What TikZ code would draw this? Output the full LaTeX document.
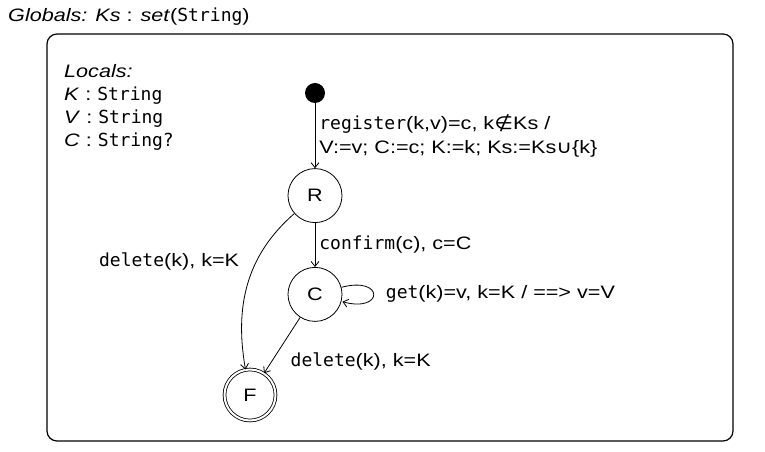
\documentclass[tikz,border=0pt]{standalone}
\usepackage{fontspec}
\setmainfont[FakeStretch=1.2]{Liberation Sans}
\setmonofont{DejaVu Sans Mono}
\newfontfamily\symfont[FakeStretch=1.2]{DejaVu Sans}
\usetikzlibrary{arrows.meta,positioning}

\begin{document}
\begin{tikzpicture}[
  x=1pt,y=1pt,
  font=\fontsize{18}{23}\selectfont,
  >={Straight Barb[length=5pt,width=8pt]},
  frame/.style={draw,rounded corners=10pt,line width=1.2pt,inner sep=0pt},
  state/.style={draw,circle,line width=0.8pt,minimum size=54pt,inner sep=0pt},
  final/.style={state,double,double distance=2pt,minimum size=51pt},
  initial/.style={circle,fill=black,minimum size=20pt,inner sep=0pt},
  trans/.style={draw,->,line width=0.8pt},
  lbl/.style={align=left,inner sep=4pt,font=\fontsize{18}{24}\selectfont},
  node distance=65pt,
]
\useasboundingbox (0,0) rectangle (765,452);
% ---- header and the machine frame ----
\node[anchor=base west,inner sep=0pt] (globals) at (8,430) {\textit{Globals: Ks} : \textit{set}(\texttt{String})};
\node[frame,minimum width=686pt,minimum height=407pt] (body) at (390,214.5) {};
\node[anchor=north west,align=left,inner sep=0pt] (locals) at (64,388)
  {\textit{Locals:}\\\textit{K} : \texttt{String}\\\textit{V} : \texttt{String}\\\textit{C} : \texttt{String?}};
% ---- states ----
\node[initial] (init) at (315,359) {};
\node[state,below=of init] (R) {R};
\node[state,below=44pt of R] (C) {C};
\node[final] (F) at (250,57) {F};
% ---- transitions ----
\draw[trans] (init) -- node[right,lbl] {\texttt{register}(k,v)=c, k{\symfont ∉}Ks /\\V:=v; C:=c; K:=k; Ks:=Ks{\symfont ∪}\{k\}} (R);
\draw[trans] (R) -- node[right,lbl] {\texttt{confirm}(c), c=C} (C);
\draw[trans] (R) to[out=221,in=100] node[lbl,pos=0.35,left=13pt] {\texttt{delete}(k), k=K} (F);
\draw[trans] (C) -- node[lbl,pos=0.55,below right,xshift=6pt] {\texttt{delete}(k), k=K} (F);
\path (C) edge[trans,loop right] node[lbl,right=8pt] {\texttt{get}(k)=v, k=K / ==> v=V} ();
\end{tikzpicture}
\end{document}
